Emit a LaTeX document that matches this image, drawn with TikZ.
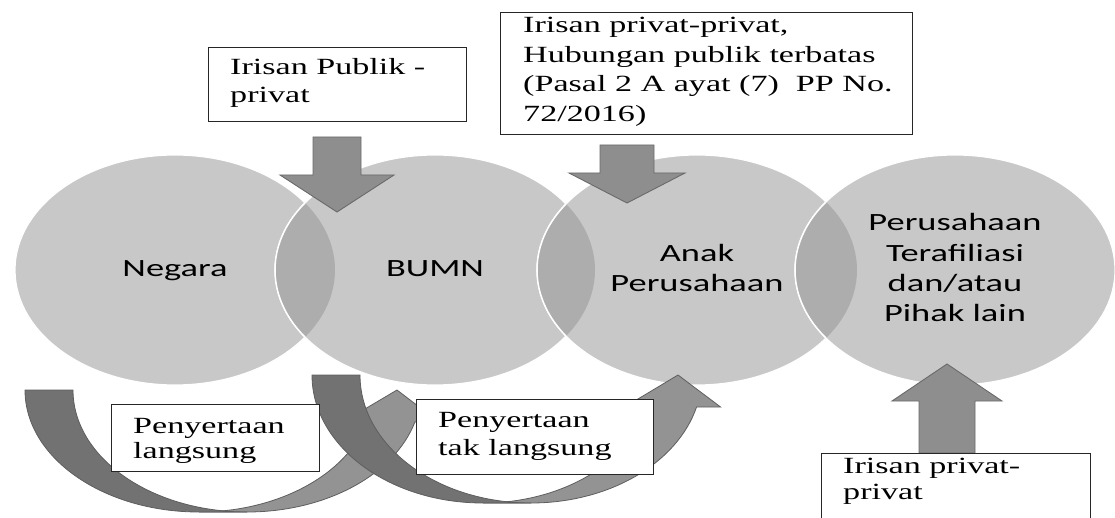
\documentclass[tikz,border=0pt]{standalone}
\usepackage{graphicx}
\usepackage{fontspec}
\setmainfont{Liberation Serif}
\newfontfamily\circfont{Carlito}
\usetikzlibrary{shapes.geometric}
\definecolor{circfill}{HTML}{C8C8C8}
\definecolor{lensfill}{HTML}{ADADAD}
\definecolor{arrfill}{HTML}{8E8E8E}
\definecolor{arredge}{HTML}{6A6A6A}
\definecolor{darkface}{HTML}{727272}
\definecolor{lightface}{HTML}{939393}
\definecolor{faceedge}{HTML}{5E5E5E}
\newcommand{\circtext}[1]{\scalebox{1.47}[1]{\circfont\fontsize{24.8}{30}\selectfont\begin{tabular}{@{}c@{}}#1\end{tabular}}}
\newcommand{\serifbox}[2]{\scalebox{1.47}[1]{\fontsize{23.2}{#1}\selectfont\vtop{#2}}}
\newcommand{\blockarrow}[6]{%
  \filldraw[blockarr] (#1-#5,#2) -- (#1+#5,#2) -- (#1+#5,#3) -- (#1+#6,#3) -- (#1,#4) -- (#1-#6,#3) -- (#1-#5,#3) -- cycle;}
\newcommand{\curvedup}[7]{%
  \pgfmathsetmacro{\cA}{#1+#3}%
  \pgfmathsetmacro{\cB}{#1+#3+#5}%
  \pgfmathsetmacro{\cbot}{#2+#4}%
  \pgfmathsetmacro{\thet}{asin(#6/#4)}%
  \pgfmathsetmacro{\dxx}{#3*cos(\thet)}%
  \pgfmathsetmacro{\xfive}{\cA+\dxx}%
  \pgfmathsetmacro{\xseven}{\cB+\dxx}%
  \pgfmathsetmacro{\tipx}{#1+2*#3+#5/2}%
  \pgfmathsetmacro{\ybase}{#2+#6}%
  \filldraw[lightarr] (\tipx,#2) -- (\xseven+#7,\ybase) -- (\xseven,\ybase)
    arc[start angle=\thet, end angle=90, x radius=#3, y radius=#4]
    -- (\cA,\cbot)
    arc[start angle=90, end angle=\thet, x radius=#3, y radius=#4]
    -- (\xfive-#7,\ybase) -- cycle;
  \filldraw[darkarr] (#1,#2)
    arc[start angle=180, end angle=90, x radius=#3, y radius=#4]
    -- (\cB,\cbot)
    arc[start angle=90, end angle=180, x radius=#3, y radius=#4]
    -- cycle;}
\begin{document}
\begin{tikzpicture}[x=1pt,y=-1pt,
  circ/.style={ellipse, fill=circfill, draw=white, line width=1.2pt, minimum width=320pt, minimum height=230pt, inner sep=0pt},
  blockarr/.style={fill=arrfill, draw=arredge, line width=0.9pt, line join=miter},
  lightarr/.style={fill=lightface, draw=faceedge, line width=0.8pt},
  darkarr/.style={fill=darkface, draw=faceedge, line width=0.8pt},
  tbox/.style={draw=black!85, line width=0.9pt, fill=white, inner sep=0pt, anchor=north west},
  ttext/.style={inner sep=0pt, anchor=base west}]
\useasboundingbox (0,0) rectangle (1115,518);
\clip (0,0) rectangle (1115,518);
% circles
\node[circ] (negara) at (175,270) {\circtext{Negara}};
\node[circ] (bumn) at (435,270) {\circtext{BUMN}};
\node[circ] (anak) at (697,270) {\circtext{Anak\\Perusahaan}};
\node[circ] (afil) at (955,270) {\circtext{Perusahaan\\Terafiliasi\\dan/atau\\Pihak lain}};
% overlaps
\foreach \a/\b in {175/435, 435/697, 697/955}{
  \begin{scope}
    \clip (\a,270) ellipse [x radius=160, y radius=115];
    \fill[lensfill] (\b,270) ellipse [x radius=160, y radius=115];
    \draw[white, line width=1.5pt] (\b,270) ellipse [x radius=160, y radius=115];
  \end{scope}}
% block arrows
\blockarrow{337}{137}{175}{212}{24}{57}
\blockarrow{627}{145}{173}{203}{27}{58}
\blockarrow{947}{453}{401}{364}{28}{55}
% curved arrows
\curvedup{25}{390}{174}{122}{48}{32}{24}
\curvedup{312}{375}{171}{128}{48}{32}{24}
% text boxes
\node[tbox, minimum width=258pt, minimum height=74pt] (box1) at (208,47) {};
\node[ttext] (t1) at (230,75) {\serifbox{28}{\hbox{Irisan Publik -}\hbox{privat}}};
\node[tbox, minimum width=412pt, minimum height=122pt] (box2) at (500,12) {};
\node[ttext] (t2) at (523,33) {\serifbox{29.5}{\hbox{Irisan privat-privat,}\hbox{Hubungan publik terbatas}\hbox{(Pasal 2 A ayat (7)\ \ PP No.}\hbox{72/2016)}}};
\node[tbox, minimum width=208pt, minimum height=67pt] (box3) at (111,404) {};
\node[ttext] (t3) at (133,433) {\serifbox{25.7}{\hbox{Penyertaan}\hbox{langsung}}};
\node[tbox, minimum width=237pt, minimum height=75pt] (box4) at (416,399) {};
\node[ttext] (t4) at (438,427) {\serifbox{28}{\hbox{Penyertaan}\hbox{tak langsung}}};
\node[tbox, minimum width=269pt, minimum height=80pt] (box5) at (821,453) {};
\node[ttext] (t5) at (843,473) {\serifbox{26}{\hbox{Irisan privat-}\hbox{privat}}};
\end{tikzpicture}
\end{document}
